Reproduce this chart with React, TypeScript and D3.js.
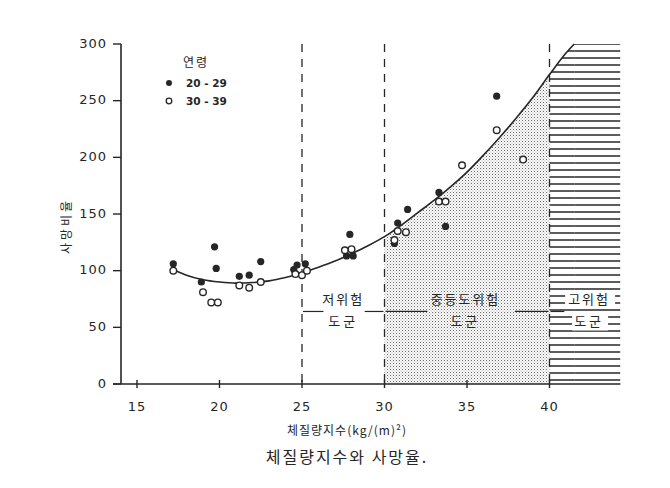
import { useEffect, useRef } from 'react';
import * as d3 from 'd3';

// 체질량지수 vs 사망비율
const curveBmi = [17.2, 18, 19, 20, 21, 22, 23, 24, 25, 26, 27, 28, 29, 30, 31, 32, 33, 34, 35, 36, 37, 38, 39, 40, 41, 41.5];
const curveRate = [101, 96, 92, 90, 89, 89.5, 91, 94, 98, 103, 108.5, 115, 122, 130, 140, 151, 162, 174, 187, 202, 218, 235, 253, 273, 292, 300];

// 20-29 (filled)
const youngBmi = [17.2, 18.9, 19.7, 19.8, 21.2, 21.8, 22.5, 24.5, 24.7, 25.2, 27.7, 28.1, 27.9, 30.6, 30.8, 31.4, 33.3, 33.7, 36.8];
const youngRate = [106, 90, 121, 102, 95, 96, 108, 101, 105, 106, 113, 113, 132, 124, 142, 154, 169, 139, 254];

// 30-39 (open)
const oldBmi = [17.2, 19.0, 19.5, 19.9, 21.2, 21.8, 22.5, 24.6, 25.0, 25.3, 27.6, 28.0, 30.6, 30.8, 31.3, 33.3, 33.7, 34.7, 36.8, 38.4];
const oldRate = [100, 81, 72, 72, 87, 85, 90, 97, 96, 100, 118, 119, 127, 135, 134, 161, 161, 193, 224, 198];

const xTicks = [15, 20, 25, 30, 35, 40];
const yTicks = [0, 50, 100, 150, 200, 250, 300];
const cutoffs = [25, 30, 40];
// bracket: line from `from` to `leftEnd`, then from `rightStart` to `to`
const groups = [
  { from: 25, leftEnd: 26.3, rightStart: 28.8, to: 30, center: 27.5, top: '저위험', bottom: '도군' },
  { from: 30, leftEnd: 32.6, rightStart: 37.9, to: 40, center: 34.9, top: '중등도위험', bottom: '도군' },
  { from: 40, leftEnd: 40.9, rightStart: null, to: 44.3, center: 42.4, top: '고위험', bottom: '도군' },
];
const bracketRate = 64;
const xMax = 44.3;
const yMax = 300;

const NUM_FONT = '"DejaVu Sans", sans-serif';
const KR_FONT = '"Noto Sans CJK KR", sans-serif';
const INK = '#262626';

export default function App() {
  const ref = useRef<SVGSVGElement>(null);

  useEffect(() => {
    const svg = d3.select(ref.current);
    svg.selectAll('*').remove();

    const x = d3.scaleLinear().domain([15, 40]).range([137, 549.5]);
    const y = d3.scaleLinear().domain([0, 300]).range([384, 44]);

    const defs = svg.append('defs');
    const dots = defs.append('pattern')
      .attr('id', 'dots').attr('width', 3).attr('height', 3)
      .attr('patternUnits', 'userSpaceOnUse');
    dots.append('rect').attr('width', 1).attr('height', 1).attr('fill', '#666');
    dots.append('rect').attr('x', 1.5).attr('y', 1.5).attr('width', 1).attr('height', 1).attr('fill', '#9a9a9a');

    const hatch = defs.append('pattern')
      .attr('id', 'hatch').attr('width', 8).attr('height', 7)
      .attr('patternUnits', 'userSpaceOnUse');
    hatch.append('line').attr('x1', 0).attr('x2', 8).attr('y1', 2).attr('y2', 2)
      .attr('stroke', '#333').attr('stroke-width', 1.6);

    const pts = curveBmi.map((b, i) => ({ b, r: curveRate[i] }));

    const area = d3.area<{ b: number; r: number }>()
      .x(d => x(d.b)).y0(y(0)).y1(d => y(d.r))
      .curve(d3.curveMonotoneX);

    defs.append('clipPath').attr('id', 'midClip').append('rect')
      .attr('x', x(30)).attr('y', 0).attr('width', x(40) - x(30)).attr('height', 488);
    defs.append('clipPath').attr('id', 'hiClip').append('rect')
      .attr('x', x(40)).attr('y', 0).attr('width', x(xMax) - x(40)).attr('height', 488);

    svg.append('path').datum(pts).attr('d', area)
      .attr('fill', 'url(#dots)').attr('clip-path', 'url(#midClip)');

    const last = curveBmi[curveBmi.length - 1];
    const hi = svg.append('g').attr('clip-path', 'url(#hiClip)');
    hi.append('path').datum(pts).attr('d', area).attr('fill', 'url(#hatch)');
    hi.append('rect')
      .attr('x', x(last)).attr('y', y(yMax))
      .attr('width', x(xMax) - x(last))
      .attr('height', y(0) - y(yMax))
      .attr('fill', 'url(#hatch)');

    cutoffs.forEach(c => {
      svg.append('line')
        .attr('x1', x(c)).attr('x2', x(c)).attr('y1', y(yMax)).attr('y2', y(0))
        .attr('stroke', INK).attr('stroke-width', 1.3).attr('stroke-dasharray', '8,7');
    });

    groups.forEach(g => {
      const ly = y(bracketRate);
      const cx = x(g.center);
      svg.append('line')
        .attr('x1', x(g.from) + 1).attr('x2', x(g.leftEnd))
        .attr('y1', ly).attr('y2', ly).attr('stroke', INK).attr('stroke-width', 1.2);
      if (g.rightStart !== null) {
        svg.append('line')
          .attr('x1', x(g.rightStart)).attr('x2', x(g.to) - 1)
          .attr('y1', ly).attr('y2', ly).attr('stroke', INK).attr('stroke-width', 1.2);
      }
      const lab = svg.append('g');
      if (g.from === 40) {
        lab.append('rect').attr('x', cx - 24).attr('y', ly - 20).attr('width', 50).attr('height', 17).attr('fill', '#fff');
        lab.append('rect').attr('x', cx - 17).attr('y', ly + 2).attr('width', 36).attr('height', 17).attr('fill', '#fff');
      }
      lab.append('text').attr('x', cx).attr('y', ly - 11)
        .attr('text-anchor', 'middle').attr('dominant-baseline', 'middle')
        .attr('font-family', KR_FONT).attr('font-size', 13).attr('letter-spacing', 2)
        .attr('fill', INK).text(g.top);
      lab.append('text').attr('x', cx).attr('y', ly + 11)
        .attr('text-anchor', 'middle').attr('dominant-baseline', 'middle')
        .attr('font-family', KR_FONT).attr('font-size', 13).attr('letter-spacing', 3)
        .attr('fill', INK).text(g.bottom);
    });

    const line = d3.line<{ b: number; r: number }>()
      .x(d => x(d.b)).y(d => y(d.r)).curve(d3.curveMonotoneX);
    svg.append('path').datum(pts).attr('d', line)
      .attr('fill', 'none').attr('stroke', INK).attr('stroke-width', 1.6);

    svg.append('g').selectAll('circle')
      .data(youngBmi.map((b, i) => ({ b, r: youngRate[i] })))
      .join('circle')
      .attr('cx', d => x(d.b)).attr('cy', d => y(d.r)).attr('r', 3.6)
      .attr('fill', INK);
    svg.append('g').selectAll('circle')
      .data(oldBmi.map((b, i) => ({ b, r: oldRate[i] })))
      .join('circle')
      .attr('cx', d => x(d.b)).attr('cy', d => y(d.r)).attr('r', 3.3)
      .attr('fill', '#fff').attr('stroke', INK).attr('stroke-width', 1.4);

    svg.append('line').attr('x1', 121).attr('x2', 121).attr('y1', y(yMax)).attr('y2', y(0))
      .attr('stroke', INK).attr('stroke-width', 1.6);
    svg.append('line').attr('x1', 113).attr('x2', x(xMax)).attr('y1', y(0)).attr('y2', y(0))
      .attr('stroke', INK).attr('stroke-width', 1.6);

    yTicks.forEach(t => {
      svg.append('line').attr('x1', 113).attr('x2', 121).attr('y1', y(t)).attr('y2', y(t))
        .attr('stroke', INK).attr('stroke-width', 1.4);
      svg.append('text').attr('x', 107).attr('y', y(t))
        .attr('text-anchor', 'end').attr('dominant-baseline', 'middle')
        .attr('font-family', NUM_FONT).attr('font-size', 13).attr('letter-spacing', 1)
        .attr('fill', INK).text(t);
    });
    xTicks.forEach(t => {
      svg.append('line').attr('x1', x(t)).attr('x2', x(t)).attr('y1', y(0) - 4).attr('y2', y(0) + 4)
        .attr('stroke', INK).attr('stroke-width', 1.4);
      svg.append('text').attr('x', x(t)).attr('y', 407)
        .attr('text-anchor', 'middle').attr('dominant-baseline', 'middle')
        .attr('font-family', NUM_FONT).attr('font-size', 13).attr('letter-spacing', 1)
        .attr('fill', INK).text(t);
    });

    svg.append('text').attr('x', 347).attr('y', 432)
      .attr('text-anchor', 'middle').attr('dominant-baseline', 'middle')
      .attr('font-family', KR_FONT).attr('font-size', 12).attr('letter-spacing', 1)
      .attr('fill', INK).text('체질량지수(kg/(m)²)');
    svg.append('text')
      .attr('transform', `translate(68,226) rotate(-90)`)
      .attr('text-anchor', 'middle').attr('dominant-baseline', 'middle')
      .attr('font-family', KR_FONT).attr('font-size', 12).attr('letter-spacing', 3)
      .attr('fill', INK).text('사망비율');
    svg.append('text').attr('x', 347).attr('y', 459)
      .attr('text-anchor', 'middle').attr('dominant-baseline', 'middle')
      .attr('font-family', KR_FONT).attr('font-size', 16).attr('letter-spacing', 2)
      .attr('fill', INK).text('체질량지수와 사망율.');

    const leg = svg.append('g');
    leg.append('text').attr('x', 196).attr('y', 64)
      .attr('text-anchor', 'middle').attr('dominant-baseline', 'middle')
      .attr('font-family', KR_FONT).attr('font-size', 12).attr('letter-spacing', 2)
      .attr('fill', INK).text('연령');
    leg.append('circle').attr('cx', 169).attr('cy', 83).attr('r', 3).attr('fill', INK);
    leg.append('circle').attr('cx', 169).attr('cy', 101).attr('r', 2.8)
      .attr('fill', '#fff').attr('stroke', INK).attr('stroke-width', 1.3);
    leg.append('text').attr('x', 186).attr('y', 84)
      .attr('dominant-baseline', 'middle')
      .attr('font-family', NUM_FONT).attr('font-size', 10.5).attr('font-weight', 'bold')
      .attr('fill', INK).text('20 - 29');
    leg.append('text').attr('x', 186).attr('y', 102)
      .attr('dominant-baseline', 'middle')
      .attr('font-family', NUM_FONT).attr('font-size', 10.5).attr('font-weight', 'bold')
      .attr('fill', INK).text('30 - 39');
  }, []);

  return (
    <svg ref={ref} width={670} height={488}
      style={{ position: 'absolute', left: 0, top: 0, background: '#fff' }} />
  );
}
